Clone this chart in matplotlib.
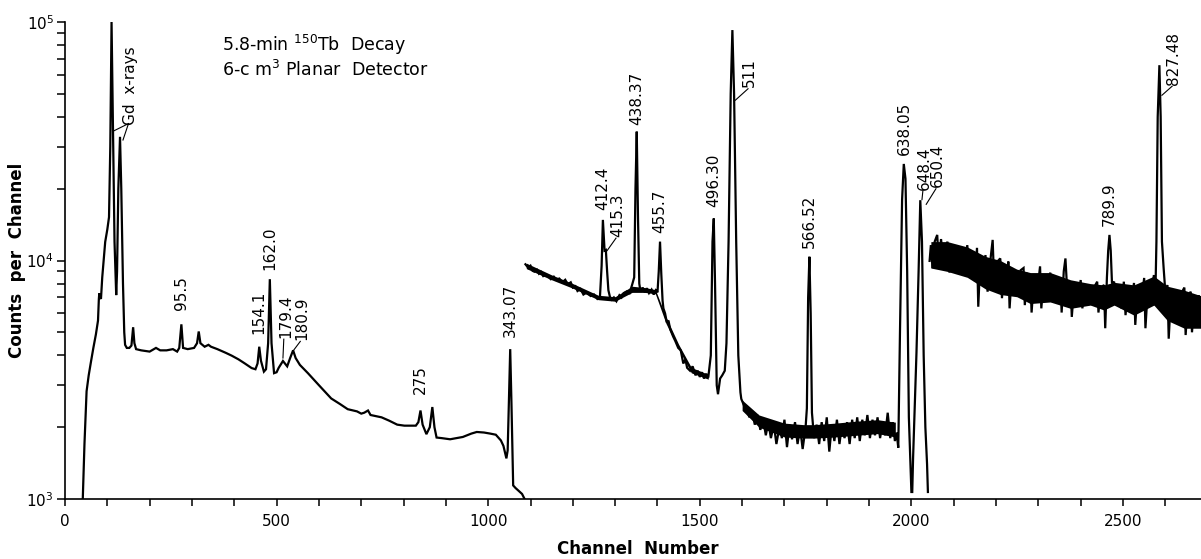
import numpy as np
import matplotlib
matplotlib.use("Agg")
import matplotlib.pyplot as plt
from matplotlib.ticker import FixedLocator, LogLocator, NullFormatter

plt.rcParams['font.family'] = ['DejaVu Sans']
plt.rcParams['mathtext.default'] = 'regular'

# ---------------- data ----------------
seg1_ch = [42, 46, 51, 56, 61, 67, 73, 78, 80, 81, 83, 85, 88, 95, 100, 104, 107, 110, 113, 117, 121,
           123, 126, 130, 133, 137, 140, 142, 146, 152, 157, 161, 164, 168, 180, 200, 215, 225, 240,
           255, 265, 270, 275, 279, 290, 305, 312, 316, 320, 330, 339, 345, 360, 380, 394, 410, 425,
           441, 450, 455, 459, 463, 470, 475, 480, 484, 488, 494, 500, 505, 515, 525, 532, 539, 545,
           555, 574, 600, 629, 650, 668, 690, 700, 707, 716, 722, 748, 766, 785, 802, 829, 835, 840,
           845, 854, 862, 868, 873, 878, 890, 910, 940, 960, 973, 990, 1005, 1018, 1030, 1036, 1043,
           1046, 1049, 1052, 1055, 1059, 1065, 1070, 1080, 1086]
seg1_counts = [1000, 1700, 2830, 3300, 3730, 4300, 4900, 5600, 6900, 7280, 7000, 6900, 8500, 11970,
               13500, 15200, 30000, 100000, 40000, 12000, 7160, 9000, 20000, 33000, 20000, 8000, 5000,
               4430, 4300, 4300, 4400, 5250, 4500, 4250, 4200, 4150, 4300, 4200, 4200, 4250, 4150,
               4300, 5400, 4300, 4250, 4300, 4500, 5040, 4500, 4350, 4430, 4350, 4250, 4100, 3990,
               3850, 3700, 3540, 3500, 3700, 4350, 3800, 3420, 3500, 4500, 8350, 4500, 3370, 3400,
               3550, 3790, 3600, 3900, 4200, 3900, 3650, 3370, 3000, 2640, 2500, 2380, 2330, 2280,
               2300, 2350, 2250, 2200, 2130, 2050, 2030, 2030, 2100, 2350, 2050, 1870, 2000, 2430,
               2000, 1810, 1800, 1780, 1820, 1880, 1910, 1900, 1880, 1860, 1760, 1670, 1480, 1600,
               2600, 4250, 2500, 1140, 1110, 1090, 1050, 1000]

seg2_ch = [1088, 1095, 1100, 1105, 1109, 1115, 1120, 1125, 1130, 1138, 1148, 1155, 1160, 1168, 1175,
           1182, 1188, 1195, 1200, 1206, 1211, 1218, 1225, 1233, 1242, 1250, 1258, 1264, 1268, 1271,
           1275, 1278, 1281, 1284, 1288, 1292, 1297, 1303, 1310, 1315, 1320, 1328, 1334, 1340, 1345,
           1348, 1351, 1354, 1357, 1360, 1365, 1370, 1375, 1380, 1386, 1391, 1396, 1400, 1403, 1406,
           1409, 1412, 1414, 1418, 1422, 1426, 1430, 1437, 1442, 1449, 1455, 1461, 1466, 1470, 1477,
           1483, 1490, 1495, 1500, 1505, 1510, 1515, 1520, 1526, 1530, 1533, 1536, 1540, 1543, 1548,
           1553, 1559, 1563, 1568, 1573, 1577, 1581, 1586, 1591, 1596,
           1598, 1605, 1611, 1617, 1623, 1630, 1637, 1643, 1650, 1656, 1662, 1668, 1675, 1681, 1688,
           1694, 1700, 1706, 1712, 1718, 1725, 1731, 1737, 1743, 1750, 1753, 1756, 1759, 1762, 1765,
           1770, 1776, 1782, 1788, 1794, 1800, 1806, 1812, 1818, 1824, 1830, 1836, 1842, 1848, 1854,
           1860, 1866, 1872, 1878, 1884, 1890, 1896, 1902, 1908, 1914, 1920, 1926, 1932, 1938, 1944,
           1950, 1956, 1961, 1965, 1969, 1973, 1978, 1982, 1986, 1990, 1994, 1997,
           2000, 2002, 2004, 2008, 2012, 2017, 2021, 2025, 2029, 2033, 2037, 2039]
seg2_counts = [9640, 9300, 9500, 9050, 8980, 9150, 8800, 8950, 8600, 8700, 8350, 8550, 8300, 8400, 8100,
               8300, 7950, 8100, 7700, 7800, 7450, 7600, 7200, 7350, 7100, 7200, 6900, 7000, 9500, 14800,
               11000, 11070, 9000, 7500, 7000, 6850, 7000, 6750, 7150, 7000, 7300, 7430, 7300,
               7900, 8500, 20000, 34700, 15000, 8000, 7400, 7700, 7350, 7650, 7300, 7550, 7200, 7500,
               7350, 9000, 12000, 8800, 6800, 6300, 6000, 5500, 5600, 5150, 4800, 4600, 4300, 4200,
               3700, 3850, 3550, 3450, 3600, 3300, 3450, 3250, 3400, 3200, 3350, 3230,
               4000, 12000, 15000, 8000, 3000, 2750, 3200, 3300, 3450, 4500, 12000, 50000, 92500,
               50000, 12000, 4000, 2800,
               2630, 2450, 2430, 2200, 2350, 2050, 2250, 1950, 2150, 1850, 2100, 1800, 2050, 1700,
               2000, 1800, 2150, 1650, 2050, 1780, 2100, 1700, 2000, 1620, 2000, 2400, 7000, 10370,
               6000, 2300, 1800, 2050, 1700, 2100, 1750, 2200, 1580, 2050, 1750, 2150, 1700, 2050,
               1800, 2100, 1700, 2150, 1800, 2200, 1750, 2150, 1850, 2250, 1800, 2150, 1850, 2200,
               1800, 2100, 1850, 2300, 1800, 2100, 1750, 1900, 1640, 5000, 18000, 25400, 22000,
               9000, 2200, 1530, 1070, 1070, 1490, 2500, 4110, 9000, 17900, 12000, 4000, 2000, 1400,
               1070]

seg3_ch = [2043, 2046, 2050, 2055, 2061, 2065, 2070, 2076, 2085, 2090, 2096, 2102, 2108, 2114, 2120,
           2126, 2132, 2138, 2144, 2150, 2155, 2158, 2163, 2169, 2175, 2180, 2186, 2192, 2196, 2203,
           2210, 2214, 2220, 2226, 2229, 2232, 2238, 2244, 2249, 2253, 2258, 2265, 2268, 2274, 2281,
           2284, 2290, 2296, 2304, 2307, 2313, 2320, 2328, 2332, 2338, 2345, 2352, 2355, 2360, 2364,
           2367, 2371, 2376, 2379, 2385, 2392, 2400, 2404, 2410, 2416, 2423, 2427, 2433, 2439, 2442,
           2448, 2455, 2458, 2462, 2465, 2468, 2471, 2474, 2479, 2483, 2490, 2496, 2502, 2506, 2512,
           2518, 2526, 2529, 2535, 2542, 2550, 2553, 2559, 2565, 2573, 2576, 2579, 2582, 2586, 2589,
           2592, 2596, 2600, 2605, 2608, 2614, 2620, 2629, 2632, 2638, 2645, 2648, 2654, 2660, 2663,
           2669, 2675, 2679, 2682, 2688]
seg3_counts = [9960, 11600, 9300, 12000, 12800, 9570, 12300, 9800, 12000, 8900, 11500, 9600, 11600,
               9300, 11200, 8800, 11600, 8450, 10800, 8200, 11300, 6400, 10300, 8000, 10540, 7400,
               9800, 12200, 7650, 9900, 10200, 6950, 9600, 7300, 9900, 6300, 9300, 7400, 8950, 7050,
               9100, 9300, 6500, 8800, 8690, 6050, 8700, 7000, 9450, 6300, 8600, 7000, 8900, 6700,
               8500, 6600, 8450, 6050, 9000, 10200, 8150, 7200, 8150, 5800, 8000, 6600, 8280, 6300,
               7900, 6800, 7700, 6500, 7800, 8150, 6050, 7700, 7890, 5200, 8500, 11000, 12800, 11000,
               8000, 8150, 6500, 7900, 6300, 8150, 5900, 7800, 6400, 8050, 5370, 7900, 6300, 8450,
               5200, 7800, 6600, 8690, 6500, 12000, 40000, 65900, 40000, 12000, 9300, 7400, 7890,
               4700, 7500, 5900, 7400, 5370, 7300, 7700, 4870, 7100, 7400, 5000, 6900, 5800, 7160,
               5370, 6600]

# dense core of the statistical scatter (lower / upper edge)
band2_ch = [1090, 1150, 1200, 1260, 1300, 1340, 1370, 1395, 1420, 1450, 1480, 1520]
band2_lo = [9250, 8300, 7650, 6850, 6750, 7350, 7350, 7250, 5450, 4250, 3380, 3180]
band2_hi = [9750, 8700, 8000, 7150, 7050, 7800, 7700, 7550, 5800, 4450, 3560, 3330]
band2b_ch = [1600, 1640, 1700, 1745, 1770, 1820, 1870, 1920, 1962]
band2b_lo = [2350, 2000, 1820, 1800, 1800, 1820, 1850, 1880, 1820]
band2b_hi = [2600, 2250, 2080, 2050, 2050, 2080, 2120, 2150, 2100]
band3_ch = [2046, 2085, 2132, 2175, 2210, 2249, 2281, 2328, 2376, 2423, 2455, 2479, 2526, 2573, 2605,
            2645, 2686]
band3_lo = [9300, 9000, 8500, 7600, 7200, 7050, 6600, 6700, 6300, 6500, 6200, 6500, 5900, 6500,
            5600, 5200, 5200]
band3_hi = [12000, 12000, 11400, 10400, 10000, 9200, 8900, 8900, 8300, 8000, 7900, 8100, 7900, 8600,
            7800, 7500, 7100]

# peak labels: text, channel of text, count at text bottom
label_text = ["95.5", "154.1", "162.0", "275", "343.07", "412.4", "438.37", "455.7", "496.30",
              "566.52", "638.05", "789.9"]
label_ch = [275, 459, 484, 840, 1052, 1271, 1351, 1406, 1533, 1760, 1984, 2468]
label_cnt = [6200, 4900, 9100, 2760, 4800, 16300, 37000, 13000, 16800, 11300, 27700, 14000]

# labels with leader lines: text, text position (ch, count), leader end (ch, count)
lead_text = ["179.4", "180.9", "415.3", "511", "648.4", "650.4", "827.48"]
lead_xy = [(521, 4750), (560, 4650), (1306, 12600), (1618, 53300), (2031, 19800), (2062, 20300),
           (2620, 54600)]
lead_end = [(515, 3900), (540, 4200), (1281, 11000), (1584, 47000), (2025, 18000), (2035, 17200),
            (2592, 49300)]

# ---------------- figure ----------------
W, H = 1201, 559
fig = plt.figure(figsize=(W / 100, H / 100), dpi=100)
ax_left, ax_bottom, ax_top_px = 65, 499, 22
ax = fig.add_axes([ax_left / W, (H - ax_bottom) / H, (W - ax_left) / W, (ax_bottom - ax_top_px) / H])

ax.set_yscale('log')
ax.set_ylim(1000, 100000)
ax.set_xlim(0, (W - ax_left) / 0.4232)

lw = 1.6
ax.fill_between(band2_ch, band2_lo, band2_hi, color='black', lw=0)
ax.fill_between(band2b_ch, band2b_lo, band2b_hi, color='black', lw=0)
ax.fill_between(band3_ch, band3_lo, band3_hi, color='black', lw=0)
for xs, ys in [(seg1_ch, seg1_counts), (seg2_ch, seg2_counts), (seg3_ch, seg3_counts)]:
    ax.plot(xs, ys, color='black', lw=lw, solid_joinstyle='miter')

for s in ['top', 'right']:
    ax.spines[s].set_visible(False)
for s in ['left', 'bottom']:
    ax.spines[s].set_linewidth(1.2)

ax.xaxis.set_major_locator(FixedLocator([0, 500, 1000, 1500, 2000, 2500]))
ax.xaxis.set_minor_locator(FixedLocator(list(range(100, 2700, 100))))
ax.set_xticklabels(['0', '500', '1000', '1500', '2000', '2500'])
ax.yaxis.set_major_locator(FixedLocator([1e3, 1e4, 1e5]))
ax.set_yticklabels(['$10^3$', '$10^4$', '$10^5$'])
ax.yaxis.set_minor_locator(LogLocator(base=10, subs=np.arange(2, 10)))
ax.yaxis.set_minor_formatter(NullFormatter())
ax.tick_params(axis='x', which='both', direction='out', length=5, width=1.1, labelsize=11, pad=6)
ax.tick_params(axis='y', which='both', direction='out', length=6, width=1.1, labelsize=11, pad=2)

ax.set_ylabel('Counts  per  Channel', fontsize=12, fontweight='bold')
ax.yaxis.set_label_coords(-0.034, 0.5)
ax.set_xlabel('Channel  Number', fontsize=12, fontweight='bold')
ax.xaxis.set_label_coords(0.504, -0.085)

ax.text(0.138, 0.952, '5.8-min $^{150}$Tb  Decay', transform=ax.transAxes, fontsize=12.5,
        va='center', ha='left')
ax.text(0.138, 0.899, '6-c m$^{3}$ Planar  Detector', transform=ax.transAxes, fontsize=12.5,
        va='center', ha='left')

fs = 11
for t, xc, yc in zip(label_text, label_ch, label_cnt):
    ax.text(xc, yc, t, rotation=90, ha='center', va='bottom', fontsize=fs)
for t, (xt, yt), (xe, ye) in zip(lead_text, lead_xy, lead_end):
    ax.text(xt, yt, t, rotation=90, ha='center', va='bottom', fontsize=fs)
    ax.plot([xt - 4, xe], [yt * 0.985, ye], color='black', lw=0.8)

# Gd x-ray label with two leaders
ax.text(155, 37000, 'Gd  x-rays', rotation=90, ha='center', va='bottom', fontsize=11)
ax.plot([150, 116], [37500, 35000], color='black', lw=0.8)
ax.plot([150, 137], [37500, 32000], color='black', lw=0.8)

fig.savefig('out.png', dpi=100)
